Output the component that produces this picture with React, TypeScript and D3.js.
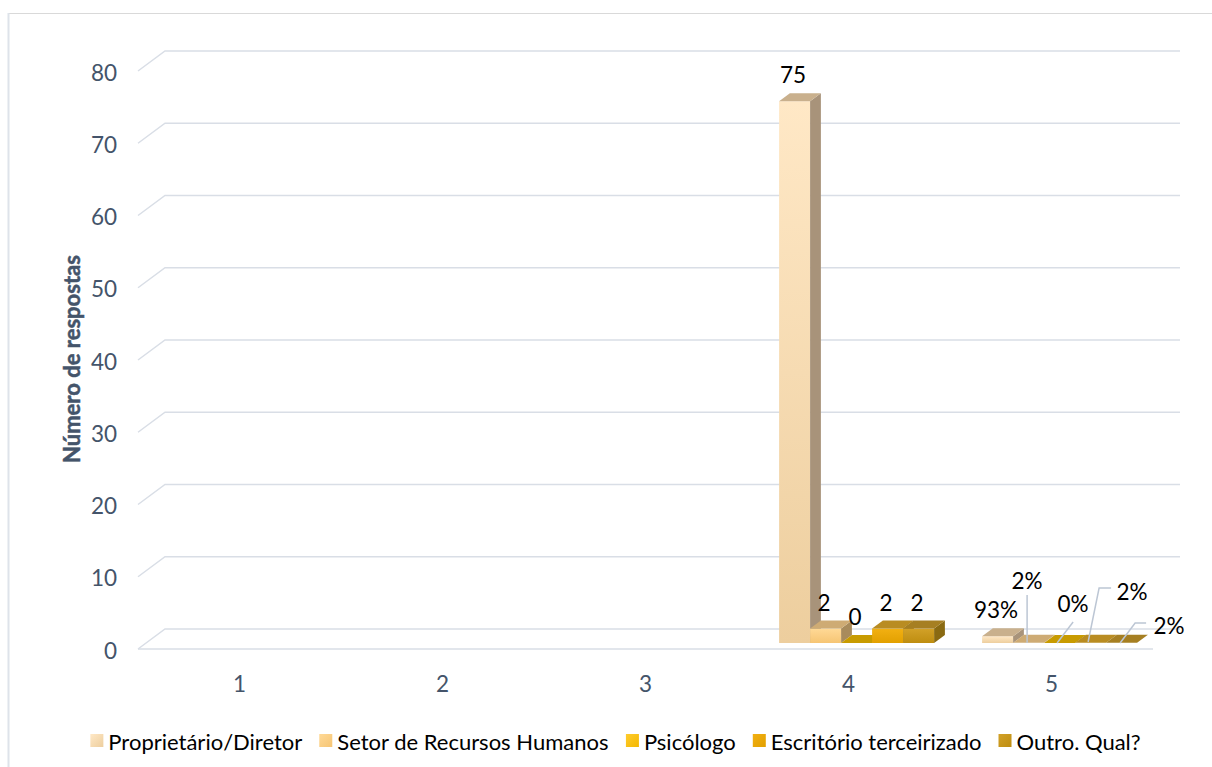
import React, { useMemo } from "react";
import * as d3 from "d3";

const categories = ["1", "2", "3", "4", "5"];
const seriesNames = [
  "Proprietário/Diretor",
  "Setor de Recursos Humanos",
  "Psicólogo",
  "Escritório terceirizado",
  "Outro. Qual?",
];
// values per category (rows) x series (cols); null = no answer shown
const cat1: (number | null)[] = [null, null, null, null, null];
const cat2: (number | null)[] = [null, null, null, null, null];
const cat3: (number | null)[] = [null, null, null, null, null];
const cat4: (number | null)[] = [75, 2, 0, 2, 2];
const cat5: (number | null)[] = [0.93, 0.02, 0, 0.02, 0.02];
const values = [cat1, cat2, cat3, cat4, cat5];
const labelFormats = ["", "", "", "count", "percent"];
const yTicks = [0, 10, 20, 30, 40, 50, 60, 70, 80];

const W = 1212;
const H = 767;
const FRONT_L = 138;
const FRONT_R = 1153;
const DX = 27;
const DY = -20;
const D0 = 0.3;
const D1 = 0.7;
const FONT = "Lato, 'Open Sans', sans-serif";
const AXIS_COLOR = "#44546A";
const GRID_COLOR = "#D9DEE6";
const LEADER_COLOR = "#BCC6D4";

const styles = [
  { f0: "#FFE8C6", f1: "#EDCE9E", top: "#C9B08D", side: "#A8937A" },
  { f0: "#FFD996", f1: "#F6C574", top: "#CEAB74", side: "#A88B5C" },
  { f0: "#FFCC2E", f1: "#F4B800", top: "#C89B00", side: "#A37E00" },
  { f0: "#F2B012", f1: "#E2A000", top: "#B98C22", side: "#98731A" },
  { f0: "#D2A128", f1: "#BE8D10", top: "#A67F22", side: "#8A6A12" },
];

// leader-label offsets for the percentage category (relative to bar front center / base)
const leaderLayout = [
  null,
  { lx: -1.5, ly: -63, pts: [[-1.5, -48], [-1.5, 0]] },
  { lx: 13.5, ly: -40, pts: [[13.5, -21], [-2.5, 0]] },
  { lx: 41.5, ly: -52, pts: [[20.5, -55], [8.5, -55], [-2.5, -1]] },
  { lx: 47.5, ly: -18, pts: [[24.5, -20], [13.5, -20], [-1.5, 0]] },
];

function measure(text: string, font: string) {
  if (typeof document === "undefined") return text.length * 9;
  const c = document.createElement("canvas");
  const ctx = c.getContext("2d")!;
  ctx.font = font;
  return ctx.measureText(text).width;
}

export default function App() {
  const y = d3.scaleLinear().domain([0, 80]).range([649, 71]);
  const xCat = d3.scaleBand<string>().domain(categories).range([FRONT_L, FRONT_R]).paddingInner(0).paddingOuter(0);
  const xSer = d3
    .scaleBand<string>()
    .domain(seriesNames)
    .range([0, xCat.bandwidth()])
    .paddingInner(0)
    .paddingOuter(0.774);

  const P = (x: number, v: number, d: number): [number, number] => [x + d * DX, y(v) + d * DY];
  const poly = (pts: [number, number][]) => pts.map((p) => p.join(",")).join(" ");

  const bars: JSX.Element[] = [];
  const labels: JSX.Element[] = [];
  categories.forEach((c, ci) => {
    seriesNames.forEach((s, si) => {
      const v = values[ci][si];
      if (v === null || v === undefined) return;
      const x0 = (xCat(c) as number) + (xSer(s) as number);
      const x1 = x0 + xSer.bandwidth();
      const st = styles[si];
      const front = [P(x0, 0, D0), P(x1, 0, D0), P(x1, v, D0), P(x0, v, D0)];
      const top = [P(x0, v, D0), P(x1, v, D0), P(x1, v, D1), P(x0, v, D1)];
      const side = [P(x1, 0, D0), P(x1, 0, D1), P(x1, v, D1), P(x1, v, D0)];
      bars.push(
        <g key={`b${ci}-${si}`}>
          {y(0) - y(v) > 0.5 && <polygon points={poly(front)} fill={`url(#gf${si})`} />}
          {y(0) - y(v) > 0.5 && <polygon points={poly(side)} fill={st.side} />}
          <polygon points={poly(top)} fill={st.top} />
        </g>
      );
      const fmt = labelFormats[ci];
      if (fmt) {
        const cx = (x0 + x1) / 2 + D0 * DX;
        const topY = y(v) + D0 * DY;
        const base = y(0) + D0 * DY;
        const txt = fmt === "percent" ? `${Math.round(v * 100)}%` : `${v}`;
        const lay = fmt === "percent" ? leaderLayout[si] : null;
        if (lay) {
          labels.push(
            <g key={`l${ci}-${si}`}>
              <polyline
                points={lay.pts.map((p) => `${cx + p[0]},${base + p[1]}`).join(" ")}
                fill="none"
                stroke={LEADER_COLOR}
                strokeWidth={1.5}
              />
              <text x={cx + lay.lx} y={base + lay.ly} textAnchor="middle" dominantBaseline="central" fontSize={22.5} fontFamily={FONT} fill="#000">
                {txt}
              </text>
            </g>
          );
        } else {
          labels.push(
            <text key={`l${ci}-${si}`} x={cx - 1.5} y={topY - 18} textAnchor="middle" fontSize={22.5} fontFamily={FONT} fill="#000">
              {txt}
            </text>
          );
        }
      }
    });
  });

  const legendFontSize = 22;
  const legend = useMemo(() => {
    const font = `${legendFontSize}px Lato`;
    const sq = 13;
    const gapSqText = 5;
    const gapItem = 17;
    const widths = seriesNames.map((n) => measure(n, font));
    const total = widths.reduce((a, b) => a + b, 0) + seriesNames.length * (sq + gapSqText) + (seriesNames.length - 1) * gapItem;
    let x = 615.5 - total / 2;
    return seriesNames.map((n, i) => {
      const item = { name: n, sx: x, tx: x + sq + gapSqText, i };
      x += sq + gapSqText + widths[i] + gapItem;
      return item;
    });
  }, []);

  return (
    <svg width={W} height={H} style={{ position: "absolute", left: 0, top: 0, background: "#fff" }}>
      <defs>
        {styles.map((st, i) => (
          <linearGradient key={i} id={`gf${i}`} x1="0" y1="0" x2="0" y2="1">
            <stop offset="0%" stopColor={st.f0} />
            <stop offset="100%" stopColor={st.f1} />
          </linearGradient>
        ))}
        {styles.map((st, i) => (
          <linearGradient key={`lg${i}`} id={`lg${i}`} x1="0" y1="0" x2="1" y2="1">
            <stop offset="0%" stopColor={st.f0} />
            <stop offset="100%" stopColor={st.f1} />
          </linearGradient>
        ))}
      </defs>
      <rect x={8.5} y={13.5} width={W} height={H} fill="#fff" stroke="#D9D9D9" strokeWidth={1} />
      <line x1={8.5} y1={13} x2={8.5} y2={H} stroke="#DEE3EA" strokeWidth={2} />

      {/* gridlines */}
      {yTicks.map((t) => {
        const a = P(FRONT_L, t, 0);
        const b = P(FRONT_L, t, 1);
        const c = P(FRONT_R, t, 1);
        return (
          <polyline key={`g${t}`} points={poly([a, b, c])} fill="none" stroke={GRID_COLOR} strokeWidth={1.5} />
        );
      })}
      <line x1={FRONT_L} y1={y(0)} x2={FRONT_R} y2={y(0)} stroke={GRID_COLOR} strokeWidth={1.5} />

      {/* y tick labels */}
      {yTicks.map((t) => (
        <text key={`t${t}`} x={117} y={y(t) + 1} textAnchor="end" dominantBaseline="central" fontSize={22.5} fontFamily={FONT} fill={AXIS_COLOR}>
          {t}
        </text>
      ))}

      {/* category labels */}
      {categories.map((c) => (
        <text key={`c${c}`} x={(xCat(c) as number) + xCat.bandwidth() / 2} y={683} textAnchor="middle" dominantBaseline="central" fontSize={22.5} fontFamily={FONT} fill={AXIS_COLOR}>
          {c}
        </text>
      ))}

      {/* y axis title */}
      <text
        transform={`translate(71,359) rotate(-90)`}
        textAnchor="middle"
        dominantBaseline="central"
        fontSize={22}
        fontWeight="bold"
        fontFamily={FONT}
        fill={AXIS_COLOR}
        stroke={AXIS_COLOR}
        strokeWidth={0.5}
      >
        Número de respostas
      </text>

      {bars}
      {labels}

      {/* legend */}
      {legend.map((l) => (
        <g key={`lg${l.i}`}>
          <rect x={l.sx} y={734} width={13} height={13} fill={`url(#lg${l.i})`} />
          <text x={l.tx} y={741} dominantBaseline="central" fontSize={legendFontSize} fontFamily={FONT} fill="#000">
            {l.name}
          </text>
        </g>
      ))}
    </svg>
  );
}
